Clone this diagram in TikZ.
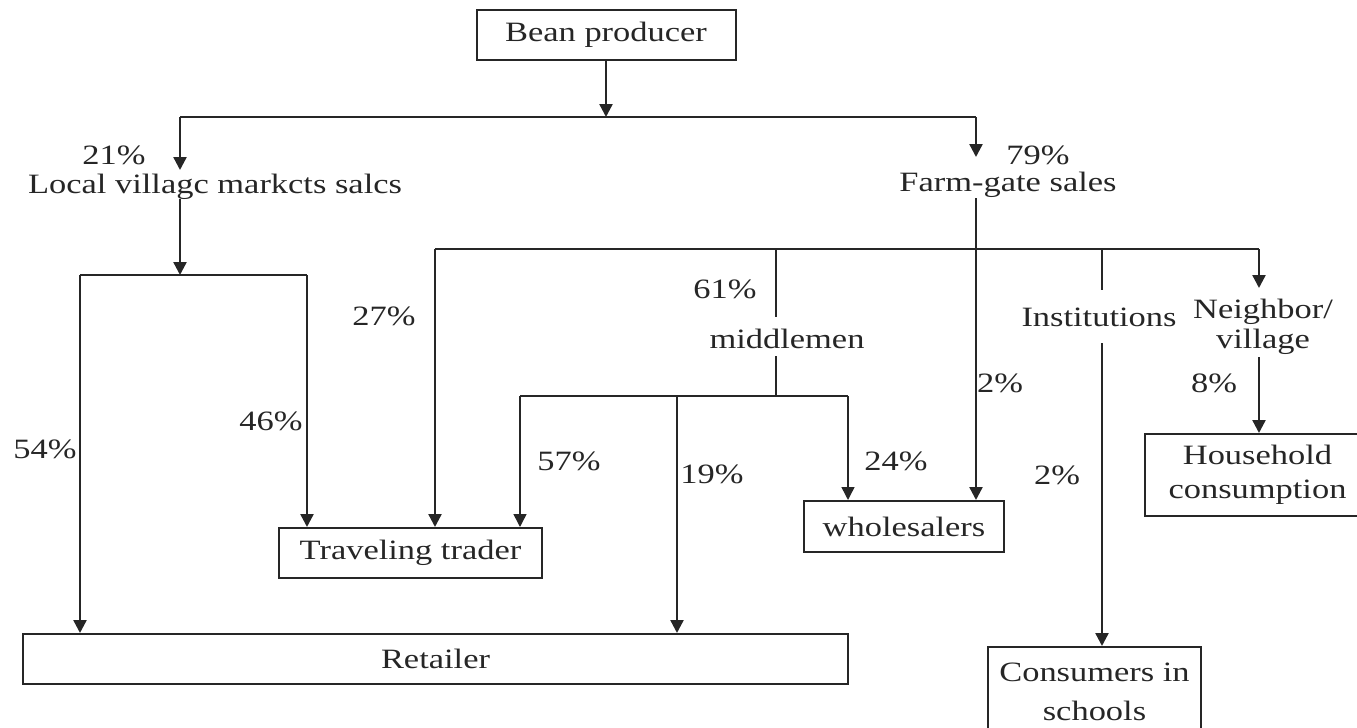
\documentclass[tikz,border=0pt]{standalone}
\usepackage{fontspec}
\setmainfont[FakeStretch=1.23]{Liberation Serif}
\usetikzlibrary{arrows.meta}
\definecolor{ink}{HTML}{262626}
\begin{document}
\begin{tikzpicture}[x=0.5pt,y=-0.5pt,
  font=\fontsize{14}{15}\selectfont,
  box/.style={draw=ink,line width=1pt,inner sep=0pt,text=ink,align=center},
  lbl/.style={inner sep=0pt,text=ink,align=center},
  conn/.style={draw=ink,line width=1.2pt},
  thinconn/.style={draw=ink,line width=0.75pt},
  tip/.style={-{Triangle[length=6.5pt,width=6.5pt]}},
]
\useasboundingbox (0,0) rectangle (1357,728);

% boxes
\node[box,minimum width=129.5pt,minimum height=25pt] (bean) at (606,35) {Bean producer};
\node[box,minimum width=131.5pt,minimum height=25pt] (trav) at (410.5,553) {Traveling trader};
\node[box,minimum width=412.5pt,minimum height=25pt] (ret) at (435.5,659) {Retailer};
\node[box,minimum width=100pt,minimum height=25.5pt] (whole) at (904,526.5) {wholesalers};
\node[box,minimum width=112.5pt,minimum height=41pt] (house) at (1257.5,475) {Household\\[2pt]consumption};
\node[box,minimum width=106.5pt,minimum height=45pt] (cons) at (1094.5,692) {Consumers in\\[4.5pt]schools};

% labels
\node[lbl,anchor=base] (p21) at (114,164) {21\%};
\node[lbl,anchor=base] (local) at (215,193) {Local villagc markcts salcs};
\node[lbl,anchor=base] (p79) at (1038,164) {79\%};
\node[lbl,anchor=base] (farm) at (1008,191) {Farm-gate sales};
\node[lbl,anchor=base] (p54) at (45,458) {54\%};
\node[lbl,anchor=base] (p46) at (271,430) {46\%};
\node[lbl,anchor=base] (p27) at (384,325) {27\%};
\node[lbl,anchor=base] (p57) at (569,470) {57\%};
\node[lbl,anchor=base] (p61) at (725,298) {61\%};
\node[lbl,anchor=base] (mid) at (787,348) {middlemen};
\node[lbl,anchor=base] (p19) at (712,483) {19\%};
\node[lbl,anchor=base] (p24) at (896,470) {24\%};
\node[lbl,anchor=base] (p2a) at (1000,392) {2\%};
\node[lbl,anchor=base] (inst) at (1099,326) {Institutions};
\node[lbl,anchor=base] (p2b) at (1057,484) {2\%};
\node[lbl] (neigh) at (1263,327) {Neighbor/\\village};
\node[lbl,anchor=base] (p8) at (1214,392) {8\%};

% junction coordinates
\coordinate (jtop) at (606,117);
\coordinate (tl) at (180,117);
\coordinate (tr) at (976,117);
\coordinate (ltip) at (180,170);
\coordinate (ftip) at (976,157);
\coordinate (lstart) at (180,199);
\coordinate (lj) at (180,275);
\coordinate (ll) at (80,275);
\coordinate (lr) at (307,275);
\coordinate (fstart) at (976,198);
\coordinate (fj) at (976,249);
\coordinate (fl) at (435,249);
\coordinate (fr) at (1259,249);
\coordinate (m1) at (776,249);
\coordinate (m2) at (776,317);
\coordinate (m3) at (776,356);
\coordinate (m4) at (776,396);
\coordinate (ml) at (520,396);
\coordinate (mc) at (677,396);
\coordinate (mr) at (848,396);
\coordinate (i1) at (1102,249);
\coordinate (i2) at (1102,290);
\coordinate (i3) at (1102,343);
\coordinate (ntip) at (1259,288);
\coordinate (n3) at (1259,357);

% connectors
\draw[conn,tip] (bean.south -| jtop) -- (jtop);
\draw[conn] (tl) -- (tr);
\draw[conn,tip] (tl) -- (ltip);
\draw[conn,tip] (tr) -- (ftip);
\draw[conn,tip] (lstart) -- (lj);
\draw[conn] (ll) -- (lr);
\draw[conn,tip] (ll) -- (ll |- ret.north);
\draw[conn,tip] (lr) -- (lr |- trav.north);
\draw[conn] (fstart) -- (fj);
\draw[conn] (fl) -- (fr);
\draw[conn,tip] (fl) -- (fl |- trav.north);
\draw[conn] (m1) -- (m2);
\draw[conn] (m3) -- (m4);
\draw[thinconn] (ml) -- (mr);
\draw[thinconn,tip] (ml) -- (ml |- trav.north);
\draw[conn,tip] (mc) -- (mc |- ret.north);
\draw[thinconn,tip] (mr) -- (mr |- whole.north);
\draw[conn,tip] (fj) -- (fj |- whole.north);
\draw[conn] (i1) -- (i2);
\draw[conn,tip] (i3) -- (i3 |- cons.north);
\draw[conn,tip] (fr) -- (ntip);
\draw[conn,tip] (n3) -- (n3 |- house.north);
\end{tikzpicture}
\end{document}
